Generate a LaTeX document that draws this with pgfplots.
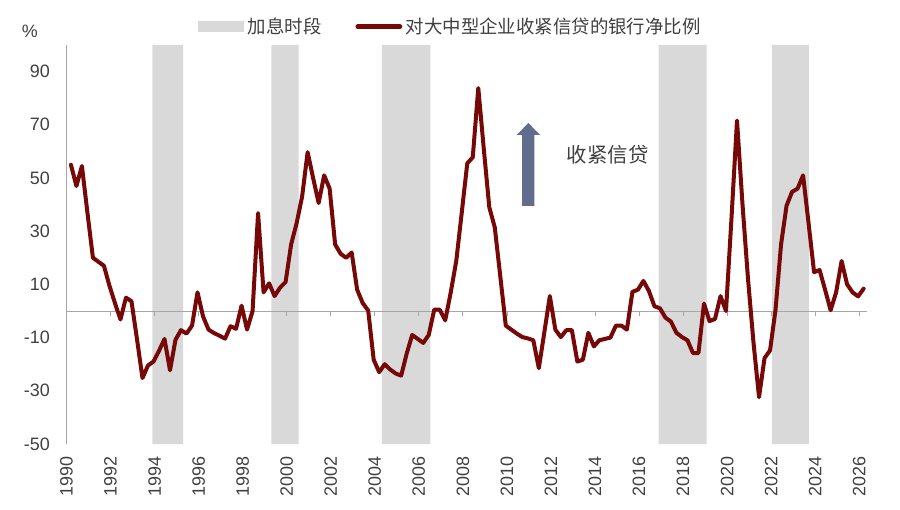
\documentclass[border=0pt]{standalone}
\usepackage{fontspec}
\setmainfont{Liberation Sans}
\newfontfamily\cjk{Noto Sans CJK SC}
\usepackage{pgfplots}
\pgfplotsset{compat=1.18}
\definecolor{shadegray}{RGB}{217,217,217}
\definecolor{dred}{RGB}{118,8,8}
\definecolor{txt}{RGB}{64,64,64}
\definecolor{axgray}{RGB}{166,166,166}
\definecolor{arrowc}{RGB}{98,108,140}
\begin{document}
\begin{tikzpicture}
\useasboundingbox (-66.5bp,-66bp) rectangle (833.5bp,444bp);
\begin{axis}[
  at={(0,0)}, anchor=south west,
  scale only axis, width=800.2bp, height=399bp,
  xmin=1990, xmax=2026.34, ymin=-50, ymax=100,
  axis y line*=left, axis x line*=bottom,
  x axis line style={draw=none},
  y axis line style={draw=axgray, line width=0.8bp},
  xtick={1990,1992,1994,1996,1998,2000,2002,2004,2006,2008,2010,2012,2014,2016,2018,2020,2022,2024,2026},
  xticklabels={1990,1992,1994,1996,1998,2000,2002,2004,2006,2008,2010,2012,2014,2016,2018,2020,2022,2024,2026},
  ytick={-50,-30,-10,10,30,50,70,90},
  yticklabels={-50,-30,-10,10,30,50,70,90},
  major tick length=0pt,
  tick style={draw=none},
  tick label style={font=\fontsize{18}{18}\selectfont, text=txt},
  yticklabel style={xshift=-16.5bp, anchor=east, inner sep=0pt},
  xticklabel style={yshift=-12.7bp, rotate=90, anchor=east, inner sep=0pt},
  clip=false,
  legend columns=2,
  legend cell align=left,
  legend style={at={(axis description cs:0.1635,1.046)}, anchor=west,
    draw=none, fill=none, inner sep=0pt,
    font=\cjk\fontsize{18.5}{18.5}\selectfont, text=txt,
    nodes={inner sep=0pt},
    /tikz/every odd column/.append style={column sep=3.5bp},
    /tikz/every even column/.append style={column sep=34bp}},
]
\addplot[fill=shadegray, draw=none,
  legend image code/.code={\fill[shadegray] (0bp,-5.8bp) rectangle (46.7bp,5.8bp);}]
  coordinates {(1993.9,-50) (1993.9,100) (1995.3,100) (1995.3,-50) (1993.9,-50)};
\addlegendentry{加息时段}
\addplot[fill=shadegray, draw=none, forget plot]
  coordinates {(1999.3,-50) (1999.3,100) (2000.54,100) (2000.54,-50) (1999.3,-50)};
\addplot[fill=shadegray, draw=none, forget plot]
  coordinates {(2004.32,-50) (2004.32,100) (2006.52,100) (2006.52,-50) (2004.32,-50)};
\addplot[fill=shadegray, draw=none, forget plot]
  coordinates {(2016.89,-50) (2016.89,100) (2019.07,100) (2019.07,-50) (2016.89,-50)};
\addplot[fill=shadegray, draw=none, forget plot]
  coordinates {(2022.05,-50) (2022.05,100) (2023.71,100) (2023.71,-50) (2022.05,-50)};

\addplot[axgray, line width=0.8bp, forget plot] coordinates {(1990,0) (2026.34,0)};
\addplot[axgray, line width=0.8bp, ycomb, mark=none, forget plot] coordinates {
(1992,-1.9) (1994,-1.9) (1996,-1.9) (1998,-1.9) (2000,-1.9) (2002,-1.9) (2004,-1.9)
(2006,-1.9) (2008,-1.9) (2010,-1.9) (2012,-1.9) (2014,-1.9) (2016,-1.9) (2018,-1.9)
(2020,-1.9) (2022,-1.9) (2024,-1.9) (2026,-1.9)};

\addplot[color=dred, line width=4bp, line join=round, line cap=round,
  legend image code/.code={\draw[dred, line width=4.5bp, line cap=round] (2.2bp,0bp) -- (44.5bp,0bp);}]
  coordinates {
(1990.20,55) (1990.45,47) (1990.70,54.5) (1990.95,37) (1991.20,20) (1991.45,18.5)
(1991.70,17) (1991.95,9.5) (1992.20,3) (1992.45,-3.2) (1992.70,5) (1992.95,3.7)
(1993.20,-10.5) (1993.45,-25.2) (1993.70,-20.5) (1993.95,-19) (1994.20,-15) (1994.45,-10.5)
(1994.70,-22.3) (1994.95,-10.8) (1995.20,-7.2) (1995.45,-8.5) (1995.70,-5.5) (1995.95,7)
(1996.20,-2) (1996.45,-7) (1996.70,-8.3) (1996.95,-9.3) (1997.20,-10.4) (1997.45,-5.7)
(1997.70,-6.7) (1997.95,2) (1998.20,-7) (1998.45,0) (1998.70,36.8) (1998.95,7)
(1999.20,10.4) (1999.45,5.6) (1999.70,8.8) (1999.95,10.9) (2000.20,25) (2000.45,33)
(2000.70,43) (2000.95,59.7) (2001.20,50) (2001.45,40.6) (2001.70,51) (2001.95,46)
(2002.20,25) (2002.45,21.5) (2002.70,20) (2002.95,22) (2003.20,8) (2003.45,3)
(2003.70,0.2) (2003.95,-18.3) (2004.20,-23) (2004.45,-20) (2004.70,-22) (2004.95,-23.5)
(2005.20,-24.3) (2005.45,-16) (2005.70,-9) (2005.95,-10.5) (2006.20,-12) (2006.45,-9)
(2006.70,0.5) (2006.95,0.5) (2007.20,-3.5) (2007.45,7) (2007.70,18.8) (2007.95,37)
(2008.20,55.5) (2008.45,57.8) (2008.70,83.8) (2008.95,61) (2009.20,39) (2009.45,31.4)
(2009.70,13) (2009.95,-5.5) (2010.20,-7) (2010.45,-8.5) (2010.70,-9.8) (2010.95,-10.3)
(2011.20,-11) (2011.45,-21.5) (2011.70,-8) (2011.95,5.6) (2012.20,-7) (2012.45,-9.8)
(2012.70,-7.2) (2012.95,-7.2) (2013.20,-19) (2013.45,-18.3) (2013.70,-8.2) (2013.95,-13.3)
(2014.20,-11) (2014.45,-10.5) (2014.70,-10) (2014.95,-5.5) (2015.20,-5.5) (2015.45,-7)
(2015.70,7.2) (2015.95,8) (2016.20,11.3) (2016.45,7.5) (2016.70,1.8) (2016.95,1)
(2017.20,-2.5) (2017.45,-4) (2017.70,-8.2) (2017.95,-9.8) (2018.20,-11) (2018.45,-15.8)
(2018.70,-15.8) (2018.95,2.8) (2019.20,-3.8) (2019.45,-3) (2019.70,5.6) (2019.95,0)
(2020.20,35) (2020.45,71.6) (2020.70,40) (2020.95,12) (2021.20,-12) (2021.45,-32.4)
(2021.70,-17.7) (2021.95,-14.8) (2022.20,0.5) (2022.45,25) (2022.70,39.6) (2022.95,44.8)
(2023.20,46) (2023.45,51) (2023.70,33) (2023.95,14.6) (2024.20,15.4) (2024.45,8)
(2024.70,0.3) (2024.95,7) (2025.20,18.8) (2025.45,10) (2025.70,7) (2025.95,5.5)
(2026.20,8.4)
  };
\addlegendentry{对大中型企业收紧信贷的银行净比例}
\end{axis}
\fill[arrowc] (455.5bp,238bp) -- (455.5bp,309bp) -- (450.2bp,309bp) -- (461.85bp,321bp) -- (473.5bp,309bp) -- (467.8bp,309bp) -- (467.8bp,238bp) -- cycle;
\node[anchor=west, inner sep=0pt, text=txt, font=\cjk\fontsize{20.5}{20.5}\selectfont] at (500.2bp,289bp) {收紧信贷};
\node[anchor=west, inner sep=0pt, text=txt, font=\fontsize{18}{18}\selectfont] at (-44.8bp,412.5bp) {\%};
\end{tikzpicture}
\end{document}
